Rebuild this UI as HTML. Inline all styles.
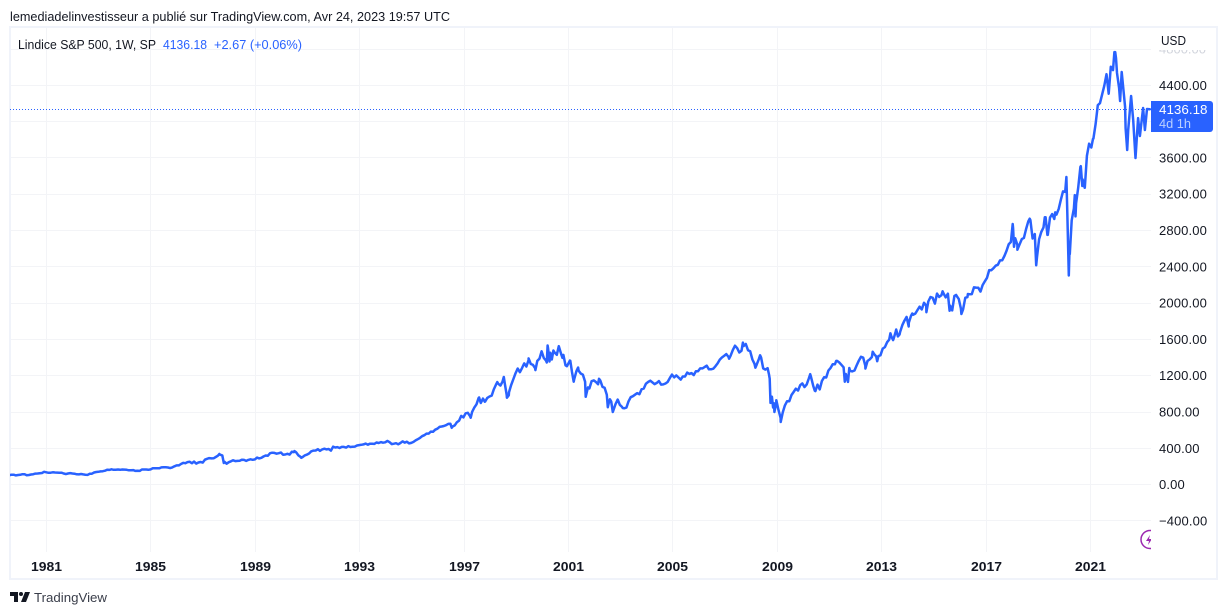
<!DOCTYPE html>
<html lang="fr">
<head>
<meta charset="utf-8">
<title>S&amp;P 500 weekly chart</title>
<style>
html,body{margin:0;padding:0;background:#fff;width:1227px;height:615px;overflow:hidden}
svg{display:block}
text{font-family:"Liberation Sans",sans-serif}
</style>
</head>
<body>
<svg id="chart" xmlns="http://www.w3.org/2000/svg" width="1227" height="615" viewBox="0 0 1227 615">
  <defs>
    <clipPath id="pane-clip"><rect x="10" y="28" width="1141" height="524"/></clipPath>
    <clipPath id="top-label-clip"><rect x="1152" y="50" width="64" height="8"/></clipPath>
  </defs>
  <text x="10" y="21" font-size="12.5" fill="#131722" textLength="440" lengthAdjust="spacingAndGlyphs">lemediadelinvestisseur a publié sur TradingView.com, Avr 24, 2023 19:57 UTC</text>
  <rect x="10" y="27" width="1207" height="552" fill="#fff" stroke="#f0f3fa" stroke-width="2"/>
  <g id="grid"></g>
  <g clip-path="url(#pane-clip)">
    <line x1="10" x2="1151" y1="109.5" y2="109.5" stroke="#2962ff" stroke-width="1" stroke-dasharray="1 2"/>
    <path id="series" fill="none" stroke="#2962ff" stroke-width="2.5" stroke-linejoin="round" stroke-linecap="round"/>
    <g>
      <circle cx="1150" cy="539.5" r="9" fill="#fff" stroke="#9c27b0" stroke-width="1.5"/>
      <polygon points="1150,535 1146,541 1149,541 1148,545 1152,539 1149,539" fill="#9c27b0"/>
    </g>
  </g>
  <rect x="1151" y="28" width="65" height="524" fill="#fff"/>
  <g id="y-axis"></g>
  <g id="x-axis"></g>
  <text x="1161" y="45" font-size="12.5" fill="#131722" textLength="25" lengthAdjust="spacingAndGlyphs">USD</text>
  <g>
    <text x="18" y="49" font-size="12.5" fill="#131722" textLength="138" lengthAdjust="spacingAndGlyphs">Lindice S&amp;P 500, 1W, SP</text>
    <text x="163" y="49" font-size="12.5" fill="#2962ff" textLength="44" lengthAdjust="spacingAndGlyphs">4136.18</text>
    <text x="214" y="49" font-size="12.5" fill="#2962ff" textLength="88" lengthAdjust="spacingAndGlyphs">+2.67 (+0.06%)</text>
  </g>
  <g>
    <path d="M1151 101H1210a3 3 0 0 1 3 3V129a3 3 0 0 1 -3 3H1151Z" fill="#2962ff"/>
    <text x="1159" y="114" font-size="13" fill="#fff" textLength="48.5" lengthAdjust="spacingAndGlyphs">4136.18</text>
    <text x="1159" y="128" font-size="13" fill="#bcd0ff" textLength="32" lengthAdjust="spacingAndGlyphs">4d 1h</text>
  </g>
  <g>
    <path d="M10 592H18V602H14V596H10Z M25 592H30L26 602H21Z" fill="#131722"/>
    <circle cx="21" cy="594" r="2" fill="#131722"/>
    <text x="34" y="602" font-size="13" fill="#3a3e4a" textLength="73" lengthAdjust="spacingAndGlyphs">TradingView</text>
  </g>
</svg>
<script>
const firstMonthYear = 1979;
const firstMonthIndex = 7;
const monthlyCloses = [
103.8,109.3,109.3,101.8,106.2,107.9,
114.2,113.7,102.1,106.3,111.2,114.2,121.7,122.4,125.5,127.5,140.5,135.8,
129.6,131.3,136.0,132.8,132.6,131.2,130.9,122.8,116.2,121.9,126.4,122.6,
120.4,113.1,111.9,116.4,111.9,109.6,107.1,119.5,120.4,133.7,138.5,140.6,
145.3,148.1,153.0,164.4,162.4,168.1,162.6,164.4,166.1,163.6,166.4,164.9,
163.4,157.1,159.2,160.1,150.6,153.2,150.7,166.7,166.1,166.1,163.6,167.2,
179.6,181.2,180.7,179.8,189.6,191.9,190.9,188.6,182.1,189.8,202.2,211.3,
211.8,226.9,238.9,235.5,247.4,250.8,236.1,252.9,231.3,244.0,249.2,242.2,
274.1,284.2,291.7,288.4,290.1,304.0,318.7,329.8,321.8,251.8,230.3,247.1,
257.1,267.8,258.9,261.3,262.2,273.5,272.0,261.5,271.9,279.0,273.7,277.7,
297.5,288.9,294.9,309.6,320.5,318.0,346.1,351.5,349.2,340.4,346.0,353.4,
329.1,331.9,339.9,330.8,361.2,358.0,356.2,322.6,306.1,304.0,322.2,330.2,
343.9,367.1,375.2,375.3,389.8,371.2,387.8,395.4,387.9,392.5,375.2,417.1,
408.8,412.7,403.7,415.0,415.4,408.1,424.2,414.0,417.8,418.7,431.4,435.7,
438.8,443.4,451.7,440.2,450.2,450.5,448.1,463.6,458.9,467.8,461.8,466.5,
481.6,467.1,445.8,450.9,456.5,444.3,458.3,475.5,462.7,472.4,453.7,459.3,
470.4,487.4,500.7,514.7,533.4,544.8,562.1,561.9,584.4,581.5,605.4,615.9,
636.0,640.4,645.5,654.2,669.1,670.6,640.0,652.0,687.3,705.3,757.0,740.7,
786.2,790.8,757.1,801.3,848.3,885.1,954.3,899.5,947.3,914.6,955.4,970.4,
980.3,1049.3,1101.8,1111.8,1090.8,1133.8,1120.7,957.3,1017.0,1098.7,1163.6,1229.2,
1279.6,1238.3,1286.4,1335.2,1301.8,1372.7,1328.7,1320.4,1282.7,1362.9,1388.9,1469.3,
1394.5,1366.4,1498.6,1452.4,1420.6,1454.6,1430.8,1517.7,1436.5,1429.4,1315.0,1320.3,
1366.0,1239.9,1160.3,1249.5,1255.8,1224.4,1211.2,1133.6,1040.9,1059.8,1139.5,1148.1,
1130.2,1106.7,1147.4,1076.9,1067.1,989.8,911.6,916.1,815.3,885.8,936.3,879.8,
855.7,841.2,848.2,916.9,963.6,974.5,990.3,1008.0,996.0,1050.7,1058.2,1111.9,
1131.1,1144.9,1126.2,1107.3,1120.7,1140.8,1101.7,1104.2,1114.6,1130.2,1173.8,1211.9,
1181.3,1203.6,1180.6,1156.9,1191.5,1191.3,1234.2,1220.3,1228.8,1207.0,1249.5,1248.3,
1280.1,1280.7,1294.9,1310.6,1270.1,1270.2,1276.7,1303.8,1335.9,1377.9,1400.6,1418.3,
1438.2,1406.8,1420.9,1482.4,1530.6,1503.4,1455.3,1474.0,1526.8,1549.4,1481.1,1468.4,
1378.6,1330.6,1322.7,1385.6,1400.4,1280.0,1267.4,1282.8,1166.4,968.8,896.2,903.3,
825.9,735.1,797.9,872.8,919.1,919.3,987.5,1020.6,1057.1,1036.2,1095.6,1115.1,
1073.9,1104.5,1169.4,1186.7,1089.4,1030.7,1101.6,1049.3,1141.2,1183.3,1180.6,1257.6,
1286.1,1327.2,1325.8,1363.6,1345.2,1320.6,1292.3,1218.9,1131.4,1253.3,1247.0,1257.6,
1312.4,1365.7,1408.5,1397.9,1310.3,1362.2,1379.3,1406.6,1440.7,1412.2,1416.2,1426.2,
1498.1,1514.7,1569.2,1597.6,1630.7,1606.3,1685.7,1633.0,1681.6,1756.5,1805.8,1848.4,
1782.6,1859.5,1872.3,1884.0,1923.6,1960.2,1930.7,2003.4,1972.3,2018.1,2067.6,2058.9,
1995.0,2104.5,2067.9,2085.5,2107.4,2063.1,2103.8,1972.2,1920.0,2079.4,2080.4,2043.9,
1940.2,1932.2,2059.7,2065.3,2097.0,2098.9,2173.6,2171.0,2168.3,2126.2,2198.8,2238.8,
2278.9,2363.6,2362.7,2384.2,2411.8,2423.4,2470.3,2471.7,2519.4,2575.3,2647.6,2673.6,
2823.8,2713.8,2640.9,2648.1,2705.3,2718.4,2816.3,2901.5,2914.0,2711.7,2760.2,2506.9,
2704.1,2784.5,2834.4,2945.8,2752.1,2941.8,2980.4,2926.5,2976.7,3037.6,3141.0,3230.8,
3225.5,2954.2,2584.6,2912.4,3044.3,3100.3,3271.1,3500.3,3363.0,3270.0,3621.6,3756.1,
3714.2,3811.2,3972.9,4181.2,4204.1,4297.5,4395.3,4522.7,4307.5,4605.4,4567.0,4766.2
];
const swingDates = [
1987.64,1987.81,1990.52,1990.78,1996.55,1997.28,1997.6,1997.82,1998.3,1998.55,1998.66,1998.74,
1999.5,1999.76,2000.2,2000.23,2000.3,2000.39,2000.45,2000.66,2000.8,2000.97,2001.1,2001.23,
2001.4,2001.69,2001.78,2002.2,2002.54,2002.62,2002.73,2002.92,2003.11,2007.19,2007.72,2008.2,
2008.38,2008.72,2008.78,2008.88,2008.93,2009.0,2009.17,2010.3,2010.48,2011.3,2011.63,2011.7,
2011.8,2012.3,2012.42,2012.7,2012.87,2013.38,2013.48,2013.6,2013.73,2014.08,2014.22,2014.76,
2015.38,2015.65,2015.9,2016.1,2016.35,2018.07,2018.12,2018.25,2018.72,2018.97,2019.3,2019.4,
2019.7,2020.13,2020.22,2020.26,2020.45,2020.48,2020.68,2020.74,2020.83,2021.15,2021.97,2022.03,
2022.07,2022.15,2022.19,2022.25,2022.38,2022.4,2022.46,2022.5,2022.61,2022.69,2022.78,2022.88,
2022.95,2023.07,2023.14,2023.22,2023.33
];
const swingCloses = [
337,238,369,295,626,737,960,914,1130,1186,987,985,
1391,1262,1346,1533,1356,1378,1478,1525,1396,1305,1364,1134,
1290,968,1071,1166,853,940,800,936,844,1387,1565,1288,
1425,1213,900,850,800,930,690,1217,1035,1363,1134,1190,
1285,1403,1278,1465,1360,1667,1592,1709,1655,1742,1885,1900,
2130,1915,2090,1880,2100,2872,2620,2588,2930,2416,2945,2752,
3000,3390,2304,2540,3190,2955,3508,3290,3270,3810,4766,4700,
4536,4370,4227,4547,4161,3929,3687,3907,4282,4017,3599,4039,
3841,4150,3907,4139,4136.2
];
const priceTicks = [4400,4000,3600,3200,2800,2400,2000,1600,1200,800,400,0,-400];
const priceGridTicks = [4800,4400,4000,3600,3200,2800,2400,2000,1600,1200,800,400,0,-400];
const yearTicks = [1981,1985,1989,1993,1997,2001,2005,2009,2013,2017,2021];

const SVG_NS = 'http://www.w3.org/2000/svg';
function xScale(year){ return 46.3 + (year - 1981) * 26.11; }
function seriesX(date){ return 46.3 + (date - 1981) * 26.07; }
function yScale(price){ return 484.6 - price * 0.09075; }
function priceLabel(p){ return (p < 0 ? '\u2212' : '') + Math.abs(p).toFixed(2); }

const gridGroup = document.getElementById('grid');
const yAxisGroup = document.getElementById('y-axis');
const xAxisGroup = document.getElementById('x-axis');

priceGridTicks.forEach(function(p){
  const y = Math.floor(yScale(p)) + 0.5;
  const line = document.createElementNS(SVG_NS, 'line');
  
  
  line.setAttribute('x1', 11);
  line.setAttribute('x2', 1151);
  line.setAttribute('y1', y);
  line.setAttribute('y2', y);
  line.setAttribute('stroke', '#f3f4f7');
  gridGroup.appendChild(line);
});

yearTicks.forEach(function(t){
  const x = Math.floor(xScale(t)) + 0.5;
  const line = document.createElementNS(SVG_NS, 'line');
  
  
  line.setAttribute('x1', x);
  line.setAttribute('x2', x);
  line.setAttribute('y1', 28);
  line.setAttribute('y2', 552);
  line.setAttribute('stroke', '#f3f4f7');
  gridGroup.appendChild(line);

  const label = document.createElementNS(SVG_NS, 'text');
  
  
  label.setAttribute('x', x);
  label.setAttribute('y', 571);
  label.setAttribute('text-anchor', 'middle');
  label.setAttribute('font-size', '13');
  label.setAttribute('font-weight', '700');
  label.setAttribute('fill', '#131722');
  label.setAttribute('textLength', '31');
  label.setAttribute('lengthAdjust', 'spacingAndGlyphs');
  label.textContent = String(t);
  xAxisGroup.appendChild(label);
});

priceTicks.forEach(function(p){
  const label = document.createElementNS(SVG_NS, 'text');
  
  
  label.setAttribute('x', 1159);
  label.setAttribute('y', yScale(p) + 4.5);
  label.setAttribute('font-size', '13');
  label.setAttribute('letter-spacing', '0.15');
  label.setAttribute('fill', '#131722');
  label.textContent = priceLabel(p);
  yAxisGroup.appendChild(label);
});

const clippedLabel = document.createElementNS(SVG_NS, 'text');


clippedLabel.setAttribute('x', 1159);
clippedLabel.setAttribute('y', yScale(4800) + 4.5);
clippedLabel.setAttribute('font-size', '13');
clippedLabel.setAttribute('fill', '#d1d4dc');
clippedLabel.setAttribute('clip-path', 'url(#top-label-clip)');
clippedLabel.textContent = priceLabel(4800);
yAxisGroup.appendChild(clippedLabel);

const seriesPoints = [];
monthlyCloses.forEach(function(close, i){
  seriesPoints.push({ date: firstMonthYear + (firstMonthIndex + i) / 12, close: close });
});
swingDates.forEach(function(d, i){
  seriesPoints.push({ date: d, close: swingCloses[i] });
});
seriesPoints.sort(function(a, b){ return a.date - b.date; });

document.getElementById('series').setAttribute('d', seriesPoints.map(function(pt, i){
  return (i ? 'L' : 'M') + seriesX(pt.date).toFixed(1) + ' ' + yScale(pt.close).toFixed(1);
}).join(''));
</script>
</body>
</html>
